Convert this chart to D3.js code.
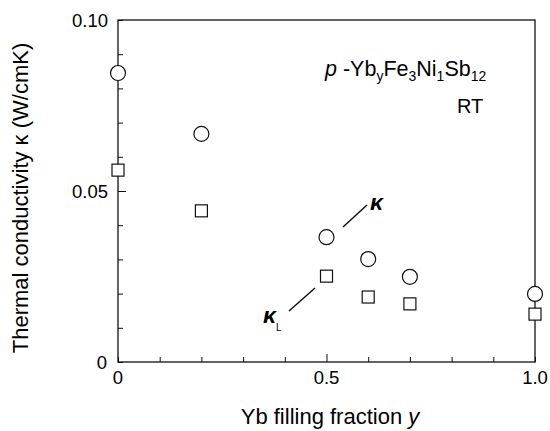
<!DOCTYPE html>
<html>
<head>
<meta charset="utf-8">
<script src="https://cdn.jsdelivr.net/npm/d3@7"></script>
<style>
  body { margin: 0; background: #fff; }
  svg { font-family: "Liberation Sans", Arial, sans-serif; }
</style>
</head>
<body>
<div id="chart"></div>
<script>
// Yb filling fraction and conductivities (W/cmK)
const fraction = [0, 0.2, 0.5, 0.6, 0.7, 1.0];
const kappaTotal = [0.0845, 0.0667, 0.0365, 0.0301, 0.0249, 0.0199];
const kappaLattice = [0.0561, 0.0442, 0.0251, 0.019, 0.017, 0.014];
const xTicks = [0, 0.5, 1.0];
const xTickLabels = ["0", "0.5", "1.0"];
const yTicks = [0, 0.05, 0.10];
const yTickLabels = ["0", "0.05", "0.10"];

const width = 550, height = 431;
const margin = { left: 118, top: 20, right: 15, bottom: 69 };

const svg = d3.select("#chart")
  .append("svg")
  .attr("width", width)
  .attr("height", height);

const x = d3.scaleLinear().domain([0, 1]).range([margin.left, width - margin.right]);
const y = d3.scaleLinear().domain([0, 0.1]).range([height - margin.bottom, margin.top]);

// frame
svg.append("rect")
  .attr("x", x(0)).attr("y", y(0.1))
  .attr("width", x(1) - x(0)).attr("height", y(0) - y(0.1))
  .attr("fill", "none").attr("stroke", "#111").attr("stroke-width", 1.3);

// bottom axis, ticks pointing inward
const xAxis = svg.append("g")
  .attr("transform", `translate(0,${y(0)})`)
  .call(d3.axisBottom(x).tickValues(d3.range(0, 1.001, 0.1)).tickSize(-6).tickFormat(""));
xAxis.select(".domain").remove();
xAxis.selectAll(".tick line")
  .attr("stroke", "#111")
  .attr("y2", (d, i) => (i === 5 ? -8 : -5));

svg.append("g").selectAll("text")
  .data(xTicks)
  .enter().append("text")
  .attr("x", d => x(d))
  .attr("y", y(0) + 22)
  .attr("text-anchor", "middle")
  .attr("font-size", 18.5)
  .text((d, i) => xTickLabels[i]);

// left axis, ticks pointing inward
const yAxis = svg.append("g")
  .attr("transform", `translate(${x(0)},0)`)
  .call(d3.axisLeft(y).tickValues(d3.range(0, 0.1001, 0.01)).tickSize(-5).tickFormat(""));
yAxis.select(".domain").remove();
yAxis.selectAll(".tick line")
  .attr("stroke", "#111")
  .attr("x2", (d, i) => (i === 5 ? 8 : 5));

svg.append("g").selectAll("text")
  .data(yTicks)
  .enter().append("text")
  .attr("x", d => (d === 0 ? x(0) - 11 : x(0) - 10))
  .attr("y", d => y(d) + 7)
  .attr("text-anchor", "end")
  .attr("font-size", 18.5)
  .text((d, i) => yTickLabels[i]);

// axis titles
svg.append("text")
  .attr("x", 330)
  .attr("y", 424)
  .attr("text-anchor", "middle")
  .attr("font-size", 22)
  .html('Yb filling fraction <tspan font-style="italic">y</tspan>');

svg.append("text")
  .attr("transform", `translate(28,${(y(0) + y(0.1)) / 2 + 7}) rotate(-90)`)
  .attr("text-anchor", "middle")
  .attr("font-size", 22)
  .text("Thermal conductivity \u03ba (W/cmK)");

// markers
svg.append("g").selectAll("circle")
  .data(fraction)
  .enter().append("circle")
  .attr("cx", d => x(d))
  .attr("cy", (d, i) => y(kappaTotal[i]))
  .attr("r", 7.5)
  .attr("fill", "#fff")
  .attr("stroke", "#111")
  .attr("stroke-width", 1.2);

const sq = 12;
svg.append("g").selectAll("rect")
  .data(fraction)
  .enter().append("rect")
  .attr("x", d => x(d) - sq / 2)
  .attr("y", (d, i) => y(kappaLattice[i]) - sq / 2)
  .attr("width", sq).attr("height", sq)
  .attr("fill", "#fff")
  .attr("stroke", "#111")
  .attr("stroke-width", 1.2);

// series labels with leader lines
svg.append("line")
  .attr("x1", 343).attr("y1", 227).attr("x2", 367).attr("y2", 205)
  .attr("stroke", "#111").attr("stroke-width", 1.5);
svg.append("text")
  .attr("x", 370).attr("y", 210)
  .attr("font-size", 23).attr("font-style", "italic").attr("font-weight", "bold")
  .text("\u03ba");

svg.append("line")
  .attr("x1", 289).attr("y1", 311).attr("x2", 315).attr("y2", 288)
  .attr("stroke", "#111").attr("stroke-width", 1.5);
svg.append("text")
  .attr("x", 263).attr("y", 323)
  .attr("font-size", 23).attr("font-style", "italic").attr("font-weight", "bold")
  .html('\u03ba<tspan font-size="10" dy="8" font-style="normal" font-weight="normal">L</tspan>');

// composition and temperature
svg.append("text")
  .attr("x", 325).attr("y", 76)
  .attr("font-size", 21.5)
  .html('<tspan font-style="italic">p</tspan> -Yb<tspan font-size="14" dy="5">y</tspan>' +
        '<tspan dy="-5">Fe</tspan><tspan font-size="14" dy="5">3</tspan>' +
        '<tspan dy="-5">Ni</tspan><tspan font-size="14" dy="5">1</tspan>' +
        '<tspan dy="-5">Sb</tspan><tspan font-size="14" dy="5">12</tspan>');

svg.append("text")
  .attr("x", 457).attr("y", 113)
  .attr("font-size", 20)
  .text("RT");
</script>
</body>
</html>
